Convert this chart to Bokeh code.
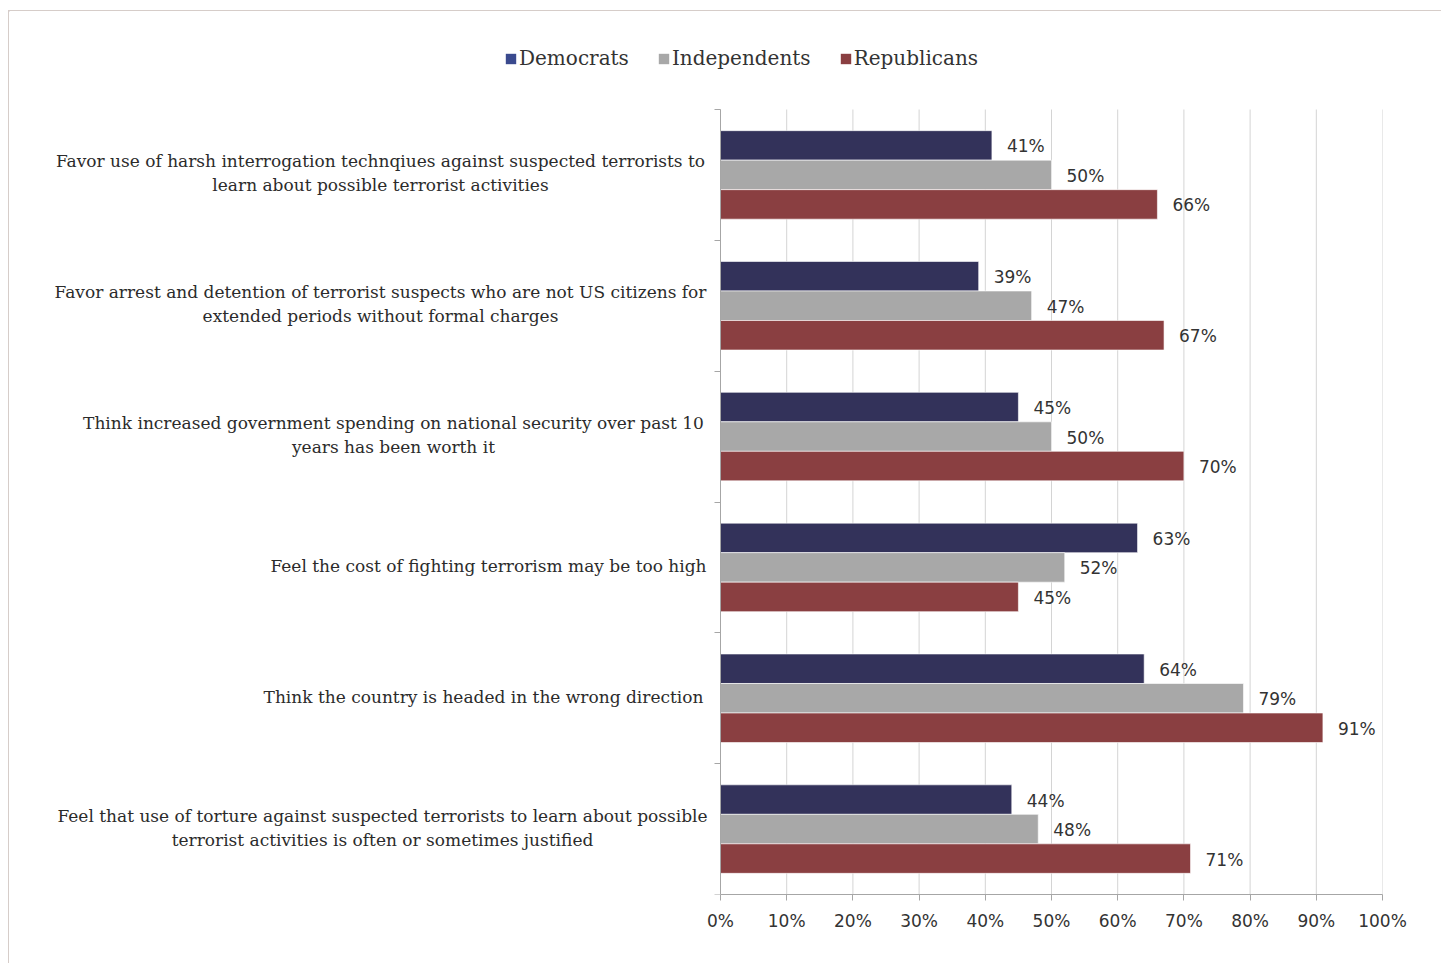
from bokeh.plotting import figure
from bokeh.models import Range1d, Legend, LegendItem, FixedTicker
from bokeh.core.properties import value
from bokeh.embed import file_html
from bokeh.resources import INLINE

categories = [
    ["Favor use of harsh interrogation technqiues against suspected terrorists to",
     "learn about possible terrorist activities"],
    ["Favor arrest and detention of terrorist suspects who are not US citizens for",
     "extended periods without formal charges"],
    ["Think increased government spending on national security over past 10",
     "years has been worth it"],
    ["Feel the cost of fighting terrorism may be too high"],
    ["Think the country is headed in the wrong direction"],
    ["Feel that use of torture against suspected terrorists to learn about possible",
     "terrorist activities is often or sometimes justified"],
]
democrats = [41, 39, 45, 63, 64, 44]
independents = [50, 47, 50, 52, 79, 48]
republicans = [66, 67, 70, 45, 91, 71]
series_names = ["Democrats", "Independents", "Republicans"]
x_ticks = [0, 10, 20, 30, 40, 50, 60, 70, 80, 90, 100]
x_tick_labels = ["0%", "10%", "20%", "30%", "40%", "50%", "60%", "70%", "80%", "90%", "100%"]

bar_colors = ["#33325a", "#a8a8a8", "#8a3f41"]
legend_colors = ["#3a4a8e", "#a8a8a8", "#8a3f41"]
label_centers_px = [380, 380, 393, 488, 483, 382]  # centre of label block (canvas px)

n = len(categories)

# layout geometry (canvas pixels)
ORIGIN_X, ORIGIN_Y = 9, 11            # figure origin after margin + border
ZERO_PX, HUNDRED_PX = 720, 1382       # x positions of 0% and 100%
TOP_PX, BOTTOM_PX = 109, 894          # y positions of first/last category boundary
W, H = 1442 - ORIGIN_X, 964 - ORIGIN_Y
px_per_pct = (HUNDRED_PX - ZERO_PX) / 100.0
px_per_cat = (BOTTOM_PX - TOP_PX) / n
x_start = -(ZERO_PX - ORIGIN_X) / px_per_pct
y_top = -(TOP_PX - ORIGIN_Y) / px_per_cat

p = figure(width=W, height=H, x_range=Range1d(x_start, 100), y_range=Range1d(n, y_top),
           output_backend="svg", toolbar_location=None,
           min_border_left=0, min_border_right=W - (HUNDRED_PX - ORIGIN_X),
           min_border_top=0, min_border_bottom=H - (BOTTOM_PX - ORIGIN_Y),
           margin=(10, 0, 0, 8))
p.styles = {"border-top": "1px solid #d6cdc9", "border-left": "1px solid #d6cdc9"}
p.outline_line_color = None
p.background_fill_color = "white"
p.xgrid.grid_line_color = None
p.ygrid.grid_line_color = None

# vertical grid lines only within the plotting band
p.segment(x0=x_ticks, y0=[0] * len(x_ticks), x1=x_ticks, y1=[n] * len(x_ticks),
          line_color="#d4d4d4", line_width=1)

bar_h = 0.2255
offsets = [-bar_h, 0.0, bar_h]
series = [democrats, independents, republicans]
for k, vals in enumerate(series):
    ys = [i + 0.5 + offsets[k] for i in range(n)]
    p.hbar(y=ys, left=0, right=vals, height=bar_h, fill_color=bar_colors[k],
           line_color="white", line_width=0.6)
    p.text(x=vals, y=ys, text=[f"{v}%" for v in vals], x_offset=15, y_offset=1,
           text_baseline="middle", text_align="left",
           text_font=value("DejaVu Sans"), text_font_size="17px", text_color="#333333")

# category labels
for i, lines in enumerate(categories):
    xc = (label_centers_px[i] - ZERO_PX) / px_per_pct
    m = len(lines)
    ys = [i + 0.5 + ((j - (m - 1) / 2) * 24 - 1.5) / px_per_cat for j in range(m)]
    p.text(x=[xc] * m, y=ys, text=lines, text_align="center", text_baseline="middle",
           text_font=value("DejaVu Serif"), text_font_size="17px", text_color="#2b2b2b")

# legend proxies (outside visible range)
items = []
for k, name in enumerate(series_names):
    r = p.hbar(y=[-50], left=[-200], right=[-190], height=0.2, fill_color=legend_colors[k], line_color=None)
    items.append(LegendItem(label=name, renderers=[r]))
legend = Legend(items=items, orientation="horizontal",
                location=(495, (BOTTOM_PX - ORIGIN_Y) - (70 - ORIGIN_Y)),
                glyph_width=13, glyph_height=13, label_standoff=2, spacing=28,
                padding=0, margin=0, border_line_color=None, background_fill_alpha=0,
                label_text_font="DejaVu Serif", label_text_font_size="20px",
                label_text_color="#333333")
p.add_layout(legend, "center")

xa = p.xaxis[0]
xa.ticker = FixedTicker(ticks=x_ticks)
xa.bounds = (0, 100)
xa.major_label_overrides = {t: l for t, l in zip(x_ticks, x_tick_labels)}
xa.axis_line_color = "#a6a6a6"
xa.major_tick_line_color = "#a6a6a6"
xa.major_tick_out = 6
xa.major_tick_in = 0
xa.minor_tick_line_color = None
xa.major_label_text_font = "DejaVu Sans"
xa.major_label_text_font_size = "17px"
xa.major_label_text_color = "#333333"
xa.major_label_standoff = 10

ya = p.yaxis[0]
ya.fixed_location = 0
ya.bounds = (0, n)
ya.ticker = FixedTicker(ticks=list(range(n + 1)))
ya.major_label_overrides = {t: "" for t in range(n + 1)}
ya.axis_line_color = "#a6a6a6"
ya.major_tick_line_color = "#a6a6a6"
ya.major_tick_out = 6
ya.major_tick_in = 0
ya.minor_tick_line_color = None
ya.major_label_standoff = 0

open("out.html", "w").write(file_html(p, INLINE))
